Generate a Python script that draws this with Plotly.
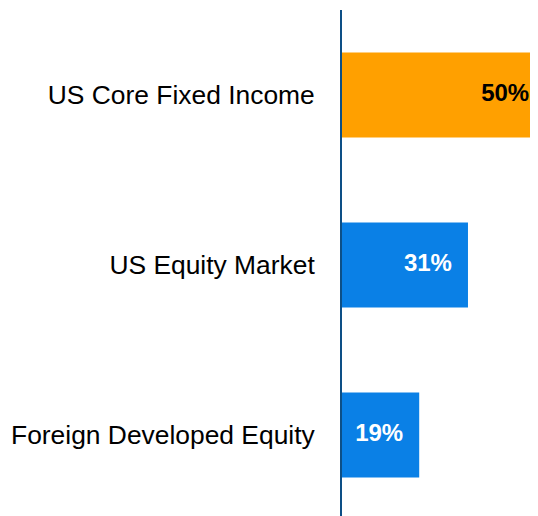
#!/usr/bin/env python3
"""Horizontal allocation bar chart."""

import plotly.graph_objects as go

CATEGORIES = ["US Core Fixed Income", "US Equity Market", "Foreign Developed Equity"]
WEIGHTS = [50, 31, 19]
BAR_COLORS = ["#FFA000", "#0A80E6", "#0A80E6"]
LABEL_COLORS = ["#000000", "#FFFFFF", "#FFFFFF"]

FONT = "Arial, Liberation Sans, Helvetica, sans-serif"


def main() -> None:
    fig = go.Figure()
    fig.add_trace(
        go.Bar(
            x=WEIGHTS,
            y=CATEGORIES,
            orientation="h",
            marker=dict(color=BAR_COLORS, line=dict(width=0)),
            hoverinfo="skip",
            showlegend=False,
        )
    )
    # value labels sit inside the bar ends; the invisible marker sets the padding
    fig.add_trace(
        go.Scatter(
            x=WEIGHTS,
            y=CATEGORIES,
            mode="markers+text",
            text=[f"{w}%" for w in WEIGHTS],
            textposition="middle left",
            textfont=dict(family=FONT, size=24, color=LABEL_COLORS, weight="bold"),
            marker=dict(size=24, opacity=0),
            hoverinfo="skip",
            showlegend=False,
        )
    )
    fig.update_layout(
        width=538,
        height=516,
        margin=dict(l=334, r=0, t=2, b=4),
        paper_bgcolor="white",
        plot_bgcolor="white",
        bargap=0.5,
        font=dict(family=FONT, size=26, color="#000000"),
    )
    fig.update_xaxes(
        range=[0, 50.2],
        visible=False,
        showgrid=False,
        zeroline=False,
    )
    fig.update_yaxes(
        type="category",
        categoryorder="array",
        categoryarray=CATEGORIES,
        autorange="reversed",
        showline=True,
        linecolor="#0D4F86",
        linewidth=2,
        ticks="",
        ticklabelstandoff=20,
        showgrid=False,
        zeroline=False,
        tickfont=dict(family=FONT, size=26.4, color="#000000"),
    )
    fig.write_html("out.html")


if __name__ == "__main__":
    main()
